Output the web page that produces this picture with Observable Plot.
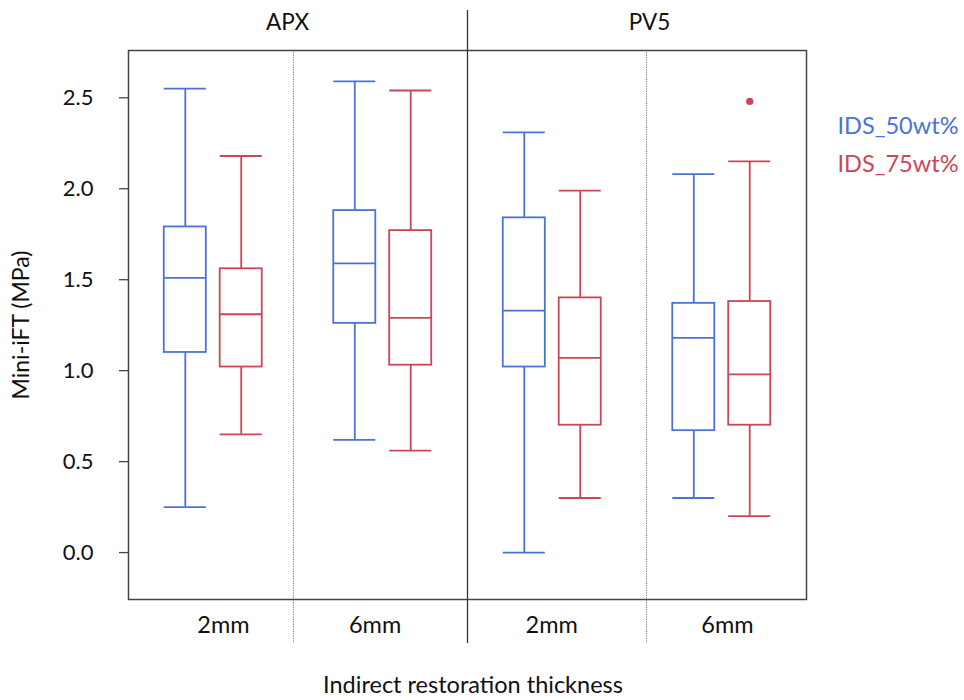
<!DOCTYPE html>
<html><head><meta charset="utf-8">
<script src="https://cdn.jsdelivr.net/npm/d3@7"></script>
<script src="https://cdn.jsdelivr.net/npm/@observablehq/plot@0.6"></script>
<style>html,body{margin:0;padding:0;background:#fff} #chart svg{display:block}</style>
</head><body><div id="chart"></div>
<script>
// ---- data ----
const materials = ["APX", "PV5"];
const groupMaterial = ["APX", "APX", "PV5", "PV5"];
const thickness = ["2mm", "6mm", "2mm", "6mm"];
const series = ["IDS_50wt%", "IDS_75wt%"];
const yTicks = [0, 0.5, 1.0, 1.5, 2.0, 2.5];

// IDS_50wt% box statistics per group
const low50  = [0.25, 0.62, 0.00, 0.30];
const q1_50  = [1.10, 1.26, 1.02, 0.67];
const med50  = [1.51, 1.59, 1.33, 1.18];
const q3_50  = [1.79, 1.88, 1.84, 1.37];
const high50 = [2.55, 2.59, 2.31, 2.08];

// IDS_75wt% box statistics per group
const low75  = [0.65, 0.56, 0.30, 0.20];
const q1_75  = [1.02, 1.03, 0.70, 0.70];
const med75  = [1.31, 1.29, 1.07, 0.98];
const q3_75  = [1.56, 1.77, 1.40, 1.38];
const high75 = [2.18, 2.54, 1.99, 2.15];

// outliers: group index, series, value
const outlierGroup  = [3];
const outlierSeries = ["IDS_75wt%"];
const outlierValue  = [2.48];

// ---- build tables ----
const stats = [
  {low: low50, q1: q1_50, med: med50, q3: q3_50, high: high50},
  {low: low75, q1: q1_75, med: med75, q3: q3_75, high: high75}
];
const off = 0.165, hw = 0.124;
const boxes = [];
thickness.forEach((t, g) => {
  series.forEach((s, si) => {
    const st = stats[si];
    const xc = g + 0.5 + (si ? off : -off);
    boxes.push({s, xc, x1: xc - hw, x2: xc + hw,
      low: st.low[g], q1: st.q1[g], med: st.med[g], q3: st.q3[g], high: st.high[g]});
  });
});
const outliers = outlierValue.map((v, i) => {
  const si = series.indexOf(outlierSeries[i]);
  return {s: outlierSeries[i], xc: outlierGroup[i] + 0.5 + (si ? off : -off), value: v};
});

const blue = "#4a72d8", red = "#cc4657";
const font = "Lato, 'Open Sans', sans-serif";
const labelX = [0.56, 1.455, 2.497, 3.534];
const facetX = [0.938, 3.074];
const sw = 1.8;

const chart = Plot.plot({
  width: 964, height: 700,
  marginLeft: 128, marginRight: 158, marginTop: 50, marginBottom: 101,
  style: {fontFamily: font, fontSize: "22px", color: "#111", background: "#fff", overflow: "visible"},
  x: {type: "linear", domain: [0, 4], axis: null},
  y: {domain: [-0.258, 2.76], axis: null},
  color: {domain: series, range: [blue, red]},
  marks: [
    Plot.axisY({ticks: yTicks, tickFormat: d => d.toFixed(1), tickSize: 9, tickPadding: 26, label: null, fontSize: 22, stroke: "#444", strokeWidth: 1.3}),
    Plot.ruleX([0.973, 3.056], {stroke: "#777", strokeDasharray: "1.2,1.2", strokeWidth: 1, insetBottom: -44}),
    Plot.ruleX([2], {stroke: "#333", strokeWidth: 1.3, insetTop: -40, insetBottom: -44}),
    Plot.frame({stroke: "#444", strokeWidth: 1.5}),
    Plot.ruleX(boxes, {x: "xc", y1: "low", y2: "q1", stroke: "s", strokeWidth: sw}),
    Plot.ruleX(boxes, {x: "xc", y1: "q3", y2: "high", stroke: "s", strokeWidth: sw}),
    Plot.rect(boxes, {x1: "x1", x2: "x2", y1: "q1", y2: "q3", fill: "none", stroke: "s", strokeWidth: sw}),
    Plot.ruleY(boxes, {y: "med", x1: "x1", x2: "x2", stroke: "s", strokeWidth: sw}),
    Plot.ruleY(boxes, {y: "low", x1: "x1", x2: "x2", stroke: "s", strokeWidth: sw}),
    Plot.ruleY(boxes, {y: "high", x1: "x1", x2: "x2", stroke: "s", strokeWidth: sw}),
    Plot.dot(outliers, {x: "xc", y: "value", r: 3.6, fill: "s", stroke: null}),
    Plot.text(thickness, {text: d => d, x: (d, i) => labelX[i], frameAnchor: "bottom", lineAnchor: "top", dy: 17, fontSize: 23.5, fill: "#111"}),
    Plot.text(materials, {text: d => d, x: (d, i) => facetX[i], frameAnchor: "top", lineAnchor: "bottom", dy: -21, fontSize: 22.5, fill: "#111"}),
    Plot.text(["Indirect restoration thickness"], {text: d => d, frameAnchor: "bottom", dx: 5.5, dy: 93, lineAnchor: "bottom", fontSize: 23.5, fill: "#111"}),
    Plot.text(["Mini-iFT (MPa)"], {text: d => d, frameAnchor: "left", textAnchor: "middle", dx: -107, rotate: -90, lineAnchor: "middle", fontSize: 23, fill: "#111"}),
    Plot.text([series[0]], {text: d => d, fill: d => d, frameAnchor: "top-right", dx: 31, dy: 83, textAnchor: "start", lineAnchor: "bottom", fontSize: 23.5}),
    Plot.text([series[1]], {text: d => d, fill: d => d, frameAnchor: "top-right", dx: 31, dy: 121, textAnchor: "start", lineAnchor: "bottom", fontSize: 23.5})
  ]
});
document.getElementById("chart").append(chart);
</script>
</body></html>
